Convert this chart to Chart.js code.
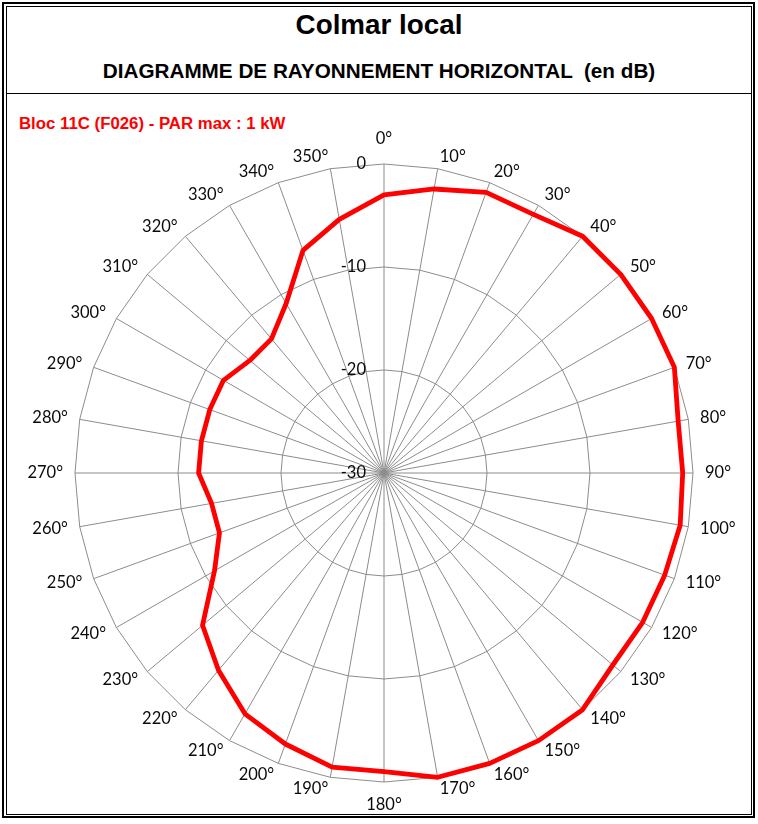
<!DOCTYPE html>
<html lang="fr">
<head>
<meta charset="utf-8">
<title>Colmar local</title>
<script src="https://cdn.jsdelivr.net/npm/chart.js@4.4.1/dist/chart.umd.min.js"></script>
<style>
  html, body { margin: 0; padding: 0; background: #fff; }
  #page { position: relative; width: 758px; height: 824px; overflow: hidden; font-family: "Liberation Sans", Arial, sans-serif; }
  .frame-outer { position: absolute; left: 2px; top: 2px; width: 753px; height: 816px; border: 2px solid #000; box-sizing: border-box; }
  .frame-inner { position: absolute; left: 6px; top: 6px; width: 746px; height: 809px; border: 1px solid #000; box-sizing: border-box; }
  .sep { position: absolute; left: 6px; top: 93px; width: 746px; height: 1px; background: #000; }
  .title { position: absolute; left: 0; width: 758px; text-align: center; font-weight: bold; line-height: 1; white-space: pre; }
  #t1 { top: 11px; font-size: 27.8px; }
  #t2 { top: 60.5px; font-size: 20.7px; }
  #bloc { position: absolute; left: 19px; top: 115.5px; font-size: 16.8px; font-weight: bold; line-height: 1; color: #ff0000; }
  #radar { position: absolute; left: 0; top: 0; }
</style>
</head>
<body>
<div id="page">
  <div class="frame-outer"></div>
  <div class="frame-inner"></div>
  <div class="sep"></div>
  <div class="title" id="t1">Colmar local</div>
  <div class="title" id="t2">DIAGRAMME DE RAYONNEMENT HORIZONTAL  (en dB)</div>
  <div id="bloc">Bloc 11C (F026) - PAR max : 1 kW</div>
  <canvas id="radar" width="758" height="824"></canvas>
</div>
<script>
// azimuths, clockwise from north
const angles = ['0°', '10°', '20°', '30°', '40°', '50°', '60°', '70°', '80°',
  '90°', '100°', '110°', '120°', '130°', '140°', '150°', '160°', '170°',
  '180°', '190°', '200°', '210°', '220°', '230°', '240°', '250°', '260°',
  '270°', '280°', '290°', '300°', '310°', '320°', '330°', '340°', '350°'];

// relative level in dB
const gainDb = [-3, -2, -1, -1, 0, 0, 0, 0, -1,
  -1, -0.8, -1, -1, -1, 0, 0, 0, 0,
  -1, -1, -2, -3, -5, -7, -11, -13, -13,
  -12, -12, -12, -12, -13, -13, -11, -7, -5];

const tickValues = [-30, -20, -10, 0];

const labelFont = '16.5px Lato, "Open Sans", sans-serif';

// labels drawn by hand so they sit like the Excel ones
const radialText = {
  id: 'radialText',
  afterDraw(chart) {
    const scale = chart.scales.r;
    const ctx = chart.ctx;
    ctx.save();
    ctx.font = labelFont;
    ctx.fillStyle = '#0a0a0a';

    angles.forEach((label, i) => {
      const deg = i * 10;
      let extra = 12;
      if (deg === 0) extra = 25;
      if (deg === 180) extra = 23;
      const pos = scale.getPointPosition(i, scale.drawingArea + extra);
      ctx.textBaseline = 'middle';
      if (deg === 0 || deg === 180) ctx.textAlign = 'center';
      else ctx.textAlign = deg < 180 ? 'left' : 'right';
      ctx.fillText(label, pos.x, pos.y);
    });

    ctx.textAlign = 'right';
    ctx.textBaseline = 'middle';
    tickValues.forEach(v => {
      const d = scale.getDistanceFromCenterForValue(v);
      ctx.fillText(String(v), scale.xCenter - 18, scale.yCenter - d);
    });
    ctx.restore();
  }
};

const chart = new Chart(document.getElementById('radar'),
  {
    type: 'radar',
    data: {
      labels: angles,
      datasets: [{
        label: 'Bloc 11C (F026)',
        data: gainDb,
        borderColor: '#ff0000',
        borderWidth: 4.8,
        borderJoinStyle: 'round',
        pointRadius: 0,
        fill: false,
        tension: 0
      }]
    },
    options: {
      responsive: false,
      animation: false,
      layout: {
        padding: { left: 75, top: 164, right: 65, bottom: 42 }
      },
      plugins: {
        legend: { display: false },
        tooltip: { enabled: false }
      },
      scales: {
        r: {
          min: -30,
          max: 0,
          ticks: { display: false, stepSize: 10 },
          pointLabels: { display: false },
          grid: { color: '#8c8c8c', lineWidth: 1, circular: false },
          angleLines: { color: '#8c8c8c', lineWidth: 1 }
        }
      }
    },
    plugins: [radialText]
  });
</script>
</body>
</html>
